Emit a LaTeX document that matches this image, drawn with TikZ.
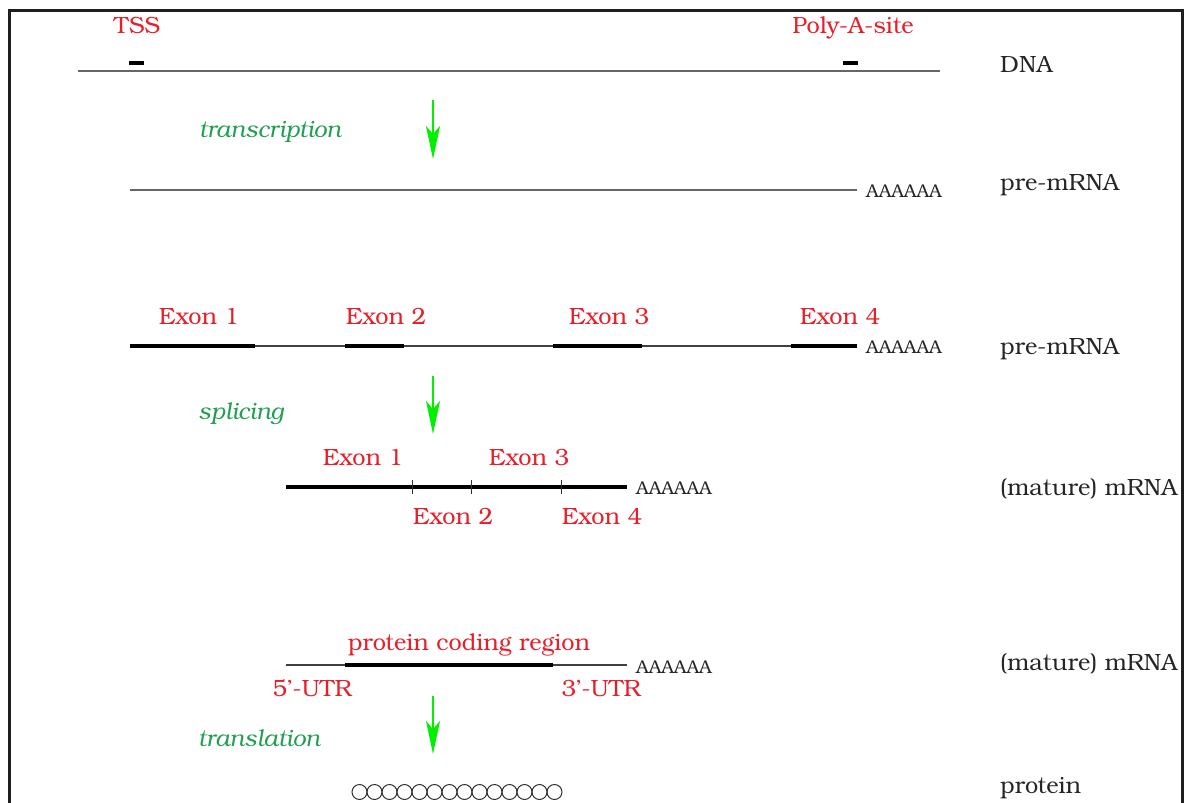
\documentclass[tikz,border=0pt]{standalone}
\usepackage{fontspec}
\setmainfont{TeX Gyre Bonum}
\usetikzlibrary{arrows.meta}
\definecolor{lblred}{RGB}{232,30,40}
\definecolor{procgreen}{RGB}{30,160,80}
\definecolor{arrgreen}{RGB}{0,240,0}
\tikzset{
  lbl/.style={inner sep=0pt, font=\fontsize{23.5}{28}\selectfont},
  redlbl/.style={lbl, text=lblred, anchor=base},
  blacklbl/.style={lbl, text=black!85, anchor=base west},
  proclbl/.style={lbl, text=procgreen, anchor=base, font=\fontsize{23.5}{28}\selectfont\itshape},
  polya/.style={inner sep=0pt, anchor=base west, font=\fontsize{18.5}{22}\selectfont, text=black!85},
  thinline/.style={line width=1.1pt, black!75},
  thickline/.style={line width=3.5pt, black},
  stepflow/.style={line width=2.2pt, arrgreen, -{Stealth[length=33pt,width=14pt,inset=8pt]}},
  sitemark/.style={line width=4pt, black},
  tick/.style={line width=1pt, black!80},
  aa/.style={draw=black!80, line width=1pt, circle, minimum size=15pt, inner sep=0pt},
}
\begin{document}
\begin{tikzpicture}[x=1pt,y=-1pt]
\useasboundingbox (0,0) rectangle (1184,803);
% ---- DNA ----
\coordinate (dnaL) at (78,71); \coordinate (dnaR) at (940,71);
\draw[thinline, black!60, line width=1.5pt] (dnaL) -- (dnaR);
\coordinate (tssA) at (129,63); \coordinate (tssB) at (144,63);
\coordinate (paA) at (843,63); \coordinate (paB) at (858,63);
\draw[sitemark] (tssA) -- (tssB);
\draw[sitemark] (paA) -- (paB);
\node[redlbl] (tss) at (137,33) {TSS};
\node[redlbl] (pas) at (853,33) {Poly-A-site};
\node[blacklbl] (ldna) at (1000,72) {DNA};
% ---- transcription ----
\coordinate (a1s) at (433,100); \coordinate (a1e) at (433,159);
\draw[stepflow] (a1s) -- (a1e);
\node[proclbl] (ltr) at (270,137) {transcription};
% ---- pre-mRNA 1 ----
\coordinate (p1L) at (130,190); \coordinate (p1R) at (857,190);
\draw[thinline, black!60, line width=1.3pt] (p1L) -- (p1R);
\node[polya] (pa1) at (866,197) {AAAAAA};
\node[blacklbl] (lpre1) at (1000,190) {pre-mRNA};
% ---- pre-mRNA 2 with exons ----
\coordinate (p2L) at (130,346); \coordinate (p2R) at (857,346);
\draw[thinline] (p2L) -- (p2R);
\coordinate (e1a) at (130,346); \coordinate (e1b) at (255,346);
\coordinate (e2a) at (345,346); \coordinate (e2b) at (404,346);
\coordinate (e3a) at (553,346); \coordinate (e3b) at (642,346);
\coordinate (e4a) at (791,346); \coordinate (e4b) at (857,346);
\draw[thickline] (e1a) -- (e1b);
\draw[thickline] (e2a) -- (e2b);
\draw[thickline] (e3a) -- (e3b);
\draw[thickline] (e4a) -- (e4b);
\node[redlbl] (x1) at (199,324) {Exon 1};
\node[redlbl] (x2) at (386,324) {Exon 2};
\node[redlbl] (x3) at (609,324) {Exon 3};
\node[redlbl] (x4) at (840,324) {Exon 4};
\node[polya] (pa2) at (866,353) {AAAAAA};
\node[blacklbl] (lpre2) at (1000,354) {pre-mRNA};
% ---- splicing ----
\coordinate (a2s) at (433,376); \coordinate (a2e) at (433,434);
\draw[stepflow] (a2s) -- (a2e);
\node[proclbl] (lsp) at (241,419) {splicing};
% ---- mature mRNA 1 ----
\coordinate (m1L) at (286,487); \coordinate (m1R) at (627,487);
\draw[thickline] (m1L) -- (m1R);
\foreach \xx/\nm in {412/t1, 471/t2, 561/t3} {
  \coordinate (\nm a) at (\xx,480); \coordinate (\nm b) at (\xx,494);
  \draw[tick] (\nm a) -- (\nm b);
}
\node[redlbl] (y1) at (363,465) {Exon 1};
\node[redlbl] (y3) at (529,465) {Exon 3};
\node[redlbl] (y2) at (453,524) {Exon 2};
\node[redlbl] (y4) at (602,524) {Exon 4};
\node[polya] (pa3) at (636,494) {AAAAAA};
\node[blacklbl] (lmat1) at (1000,495) {(mature) mRNA};
% ---- mature mRNA 2 ----
\coordinate (m2L) at (286,665); \coordinate (m2R) at (627,665);
\coordinate (cdsA) at (345,665); \coordinate (cdsB) at (553,665);
\draw[thinline] (m2L) -- (m2R);
\draw[thickline] (cdsA) -- (cdsB);
\node[redlbl] (lcds) at (469,650) {protein coding region};
\node[redlbl] (u5) at (312,696) {5'-UTR};
\node[redlbl] (u3) at (601,696) {3'-UTR};
\node[polya] (pa4) at (636,673) {AAAAAA};
\node[blacklbl] (lmat2) at (1000,670) {(mature) mRNA};
% ---- translation ----
\coordinate (a3s) at (433,696); \coordinate (a3e) at (433,754);
\draw[stepflow] (a3s) -- (a3e);
\node[proclbl] (ltl) at (259,746) {translation};
% ---- protein ----
\foreach \i in {0,...,13} {
  \node[aa] (aa\i) at ({359.5+15*\i},792) {};
}
\node[blacklbl] (lprot) at (1000,793) {protein};
% ---- frame ----
\coordinate (frBL) at (9,806); \coordinate (frTL) at (9,10);
\coordinate (frTR) at (1182,10); \coordinate (frBR) at (1182,806);
\draw[line width=3pt, black!88] (frBL) -- (frTL) -- (frTR) -- (frBR);
\end{tikzpicture}
\end{document}
